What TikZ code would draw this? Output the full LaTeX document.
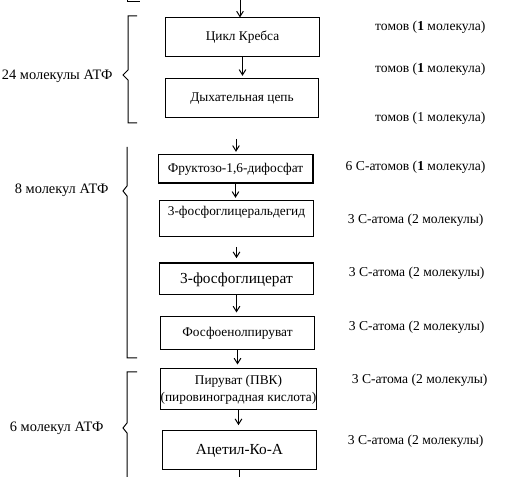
\documentclass[tikz,border=0pt]{standalone}
\usepackage{fontspec}
\setmainfont{Liberation Serif}
\usetikzlibrary{arrows.meta}

\begin{document}
\begin{tikzpicture}[
    x=0.75pt, y=-0.75pt, line width=0.75pt,
    box/.style={draw, align=center, font=\fontsize{10}{12}\selectfont, inner sep=1pt, minimum width=115pt},
    big/.style={font=\fontsize{11.5}{13}\selectfont},
    note/.style={anchor=east, inner sep=0pt, font=\fontsize{10.2}{12}\selectfont},
    atp/.style={anchor=east, inner sep=0pt, font=\fontsize{10.8}{13}\selectfont},
    arr/.style={-{Straight Barb[length=4pt, width=5pt]}}
]
\useasboundingbox (0,0) rectangle (511,477);
\node[box, minimum height=29.25pt] (krebs) at (242.5,37.5) {Цикл Кребса};
\node[box, minimum height=29.25pt] (resp) at (242,98.5) {Дыхательная цепь};
\node[box, minimum height=21pt] (fru) at (235.5,169) {Фруктозо-1,6-дифосфат};
\draw[line width=1.5pt] (fru.north east) -- (fru.south east) -- (fru.south west);
\node[box, minimum height=27pt] (gald) at (236.5,219) {3-фосфоглицеральдегид\\ \mbox{}};
\node[box, big, minimum height=23.25pt] (pglyc) at (236.5,279.5) {3-фосфоглицерат};
\draw[line width=1.5pt] (pglyc.north west) -- (pglyc.north east);
\node[box, minimum height=24.75pt] (pep) at (237.5,333.5) {Фосфоенолпируват};
\node[box, minimum height=30.75pt, inner sep=0pt, font=\fontsize{10}{13}\selectfont] (pyr) at (238.5,389.5) {Пируват (ПВК)\\(пировиноградная кислота)};
\node[box, big, minimum height=29.25pt] (acet) at (239.5,450.5) {Ацетил-Ко-А};
\coordinate (in1) at (240,-2);
\coordinate (in2) at (236,139);
\coordinate (out) at (240,479);
\draw[arr] (in1) -- (in1 |- krebs.north);
\draw[arr, shorten >=2pt] (krebs.south) -- (krebs.south |- resp.north);
\draw[arr, shorten >=2pt] (in2) -- (in2 |- fru.north);
\draw[arr, shorten >=2pt] (fru.south) -- (fru.south |- gald.north);
\draw[arr, shorten <=7pt, shorten >=4pt] (gald.south) -- (gald.south |- pglyc.north);
\draw[arr, shorten >=3pt] (pglyc.south) -- (pglyc.south |- pep.north);
\draw[arr, shorten >=3pt] (pep.south) -- (pep.south |- pyr.north);
\draw[arr, shorten >=4pt] (pyr.south) -- (pyr.south |- acet.north);
\draw (acet.south) -- (acet.south |- out);
\draw (127,-2) -- (127,2) -- (140,2);
\draw (137,16) -- (128,16) -- (128,70) -- (123,75) -- (128,80) -- (128,123) -- (137,123);
\draw (127,147) -- (127,186) -- (123,191) -- (127,196) -- (127,358) -- (137,358);
\draw (137,372) -- (127,372) -- (127,423) -- (123,428) -- (127,433) -- (127,479);
\node[atp] (atp1) at (113,76) {24 молекулы АТФ};
\node[atp] (atp2) at (109,190) {8 молекул АТФ};
\node[atp] (atp3) at (104,428) {6 молекул АТФ};
\node[note] (c1) at (486,27) {томов (\textbf{1} молекула)};
\node[note] (c2) at (486,69) {томов (\textbf{1} молекула)};
\node[note] (c3) at (486,118) {томов (1 молекула)};
\node[note] (c4) at (486,167) {6 С-атомов (\textbf{1} молекула)};
\node[note] (c5) at (484,220) {3 С-атома (2 молекулы)};
\node[note] (c6) at (485,273) {3 С-атома (2 молекулы)};
\node[note] (c7) at (485,327) {3 С-атома (2 молекулы)};
\node[note] (c8) at (488,380) {3 С-атома (2 молекулы)};
\node[note] (c9) at (484,441) {3 С-атома (2 молекулы)};
\end{tikzpicture}
\end{document}
